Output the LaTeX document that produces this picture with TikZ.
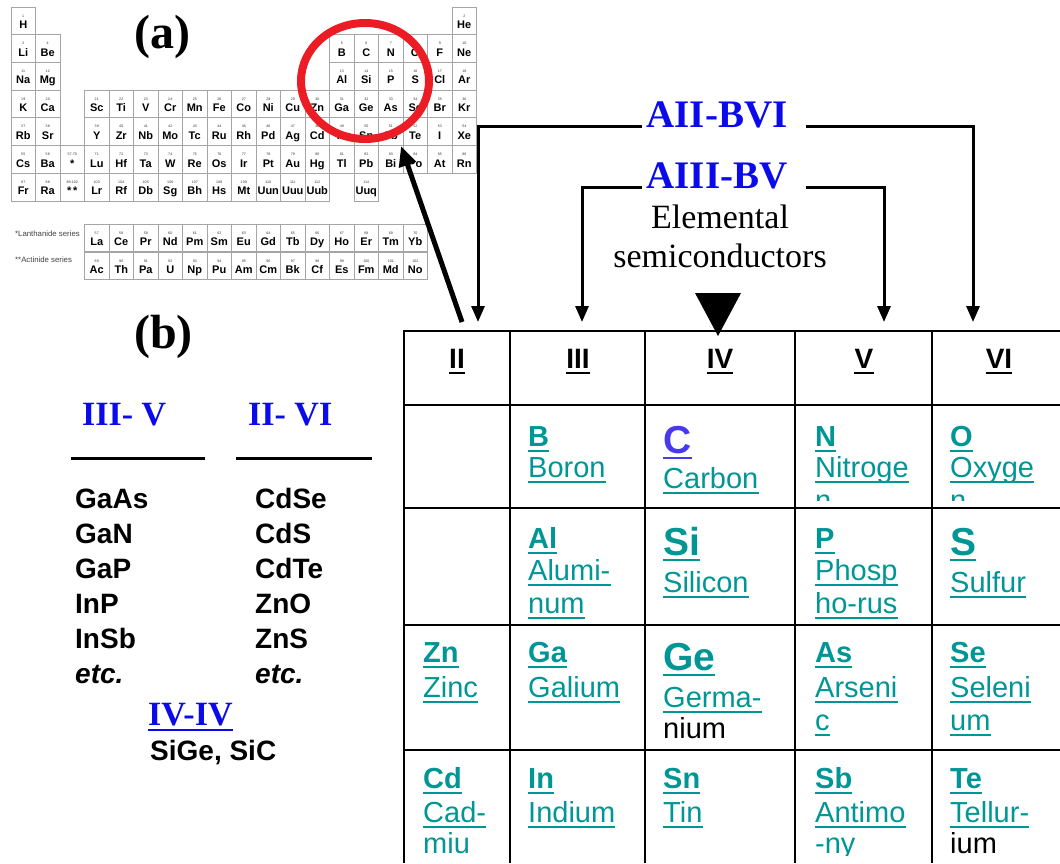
\documentclass[tikz,border=0pt]{standalone}
\usepackage{fontspec}
\setmainfont{Liberation Serif}
\setsansfont{Liberation Sans}
\usetikzlibrary{arrows.meta}
\definecolor{tealc}{RGB}{0,150,150}
\definecolor{cviolet}{RGB}{72,56,240}
\definecolor{lblue}{RGB}{10,10,235}
\definecolor{cred}{RGB}{236,28,36}
\definecolor{ptgray}{RGB}{165,165,165}
% periodic-table cell: #1 name, #2 x, #3 y, #4 number, #5 symbol
\newcommand\pcell[5]{%
  \draw[ptcell] (#2,#3) rectangle ++(24.5,27.7);
  \node[ptnum] (n#1) at ({#2+12.25},{#3+10}) {#4};
  \node[ptsym] (p#1) at ({#2+12.25},{#3+21.5}) {#5};
}
% underlined label: #1 style, #2 name, #3 x, #4 y, #5 text, #6 underline style
\newcommand\ulab[6]{%
  \node[#1] (#2) at (#3,#4) {#5};
  \draw[#6] ([yshift=-5pt]#2.base west) -- ([yshift=-5pt]#2.base east);
}
\begin{document}
\begin{tikzpicture}[x=1pt,y=-1pt,
  ptcell/.style={draw=ptgray, line width=0.8pt},
  ptnum/.style={font=\sffamily\fontsize{3.6}{4}\selectfont, text=black!80, inner sep=0, anchor=base},
  ptsym/.style={font=\sffamily\bfseries\fontsize{11}{12}\selectfont, inner sep=0, anchor=base},
  ptser/.style={font=\sffamily\fontsize{7.8}{9}\selectfont, text=black!75, inner sep=0, anchor=base west},
  tline/.style={line width=2.2pt},
  hdr/.style={font=\sffamily\bfseries\fontsize{28}{32}\selectfont, inner sep=0, anchor=base},
  elsym/.style={font=\sffamily\bfseries\fontsize{29}{34}\selectfont, text=tealc, inner sep=0, anchor=base west},
  elbig/.style={font=\sffamily\bfseries\fontsize{39}{44}\selectfont, text=tealc, inner sep=0, anchor=base west},
  elname/.style={font=\sffamily\fontsize{29}{34}\selectfont, text=tealc, inner sep=0, anchor=base west},
  elblack/.style={font=\sffamily\fontsize{29}{34}\selectfont, text=black, inner sep=0, anchor=base west},
  ulteal/.style={draw=tealc, line width=2.6pt},
  ulblue/.style={draw=cviolet, line width=2.6pt},
  ulblack/.style={draw=black, line width=2.6pt},
  ullblue/.style={draw=lblue, line width=2.6pt},
  grp/.style={font=\bfseries\fontsize{34}{38}\selectfont, text=lblue, inner sep=0, anchor=base west},
  toplab/.style={font=\bfseries\fontsize{39}{44}\selectfont, text=lblue, inner sep=0, anchor=base},
  elem/.style={font=\fontsize{34}{38}\selectfont, inner sep=0, anchor=base},
  cmp/.style={font=\sffamily\bfseries\fontsize{28}{32}\selectfont, inner sep=0, anchor=base west},
  bigl/.style={font=\bfseries\fontsize{48}{52}\selectfont, inner sep=0, anchor=base west},
  arr/.style={line width=3pt, -{Triangle[length=16pt,width=13pt]}},
]
\useasboundingbox (0,0) rectangle (1060,863);
\clip (0,0) rectangle (1060,863);

% ---------------- periodic table (a) ----------------
\foreach \c/\r/\n/\s in {
 0/0/1/H, 18/0/2/He,
 0/1/3/Li, 1/1/4/Be, 13/1/5/B, 14/1/6/C, 15/1/7/N, 16/1/8/O, 17/1/9/F, 18/1/10/Ne,
 0/2/11/Na, 1/2/12/Mg, 13/2/13/Al, 14/2/14/Si, 15/2/15/P, 16/2/16/S, 17/2/17/Cl, 18/2/18/Ar,
 0/3/19/K, 1/3/20/Ca, 3/3/21/Sc, 4/3/22/Ti, 5/3/23/V, 6/3/24/Cr, 7/3/25/Mn, 8/3/26/Fe, 9/3/27/Co,
 10/3/28/Ni, 11/3/29/Cu, 12/3/30/Zn, 13/3/31/Ga, 14/3/32/Ge, 15/3/33/As, 16/3/34/Se, 17/3/35/Br, 18/3/36/Kr,
 0/4/37/Rb, 1/4/38/Sr, 3/4/39/Y, 4/4/40/Zr, 5/4/41/Nb, 6/4/42/Mo, 7/4/43/Tc, 8/4/44/Ru, 9/4/45/Rh,
 10/4/46/Pd, 11/4/47/Ag, 12/4/48/Cd, 13/4/49/In, 14/4/50/Sn, 15/4/51/Sb, 16/4/52/Te, 17/4/53/I, 18/4/54/Xe,
 0/5/55/Cs, 1/5/56/Ba, 3/5/71/Lu, 4/5/72/Hf, 5/5/73/Ta, 6/5/74/W, 7/5/75/Re, 8/5/76/Os, 9/5/77/Ir,
 10/5/78/Pt, 11/5/79/Au, 12/5/80/Hg, 13/5/81/Tl, 14/5/82/Pb, 15/5/83/Bi, 16/5/84/Po, 17/5/85/At, 18/5/86/Rn,
 0/6/87/Fr, 1/6/88/Ra, 3/6/103/Lr, 4/6/104/Rf, 5/6/105/Db, 6/6/106/Sg, 7/6/107/Bh, 8/6/108/Hs, 9/6/109/Mt,
 10/6/110/Uun, 11/6/111/Uuu, 12/6/112/Uub, 14/6/114/Uuq}
 {\pcell{\s}{11+24.5*\c}{7+27.7*\r}{\n}{\s}}
\pcell{star1}{60}{145.5}{57-70}{*}
\pcell{star2}{60}{173.2}{89-102}{*\,*}

\foreach \s/\n [count=\i from 0] in {La/57,Ce/58,Pr/59,Nd/60,Pm/61,Sm/62,Eu/63,Gd/64,Tb/65,Dy/66,Ho/67,Er/68,Tm/69,Yb/70}
 {\pcell{\s}{84.5+24.5*\i}{224}{\n}{\s}}
\foreach \s/\n [count=\i from 0] in {Ac/89,Th/90,Pa/91,U/92,Np/93,Pu/94,Am/95,Cm/96,Bk/97,Cf/98,Es/99,Fm/100,Md/101,No/102}
 {\pcell{\s}{84.5+24.5*\i}{252}{\n}{\s}}
\node[ptser] (lser) at (15,236) {*Lanthanide series};
\node[ptser] (aser) at (15,262) {**Actinide series};

\node[bigl] (la) at (134,48) {(a)};
\node[bigl] (lb) at (134,348) {(b)};

% red circle and arrow
\draw[cred, line width=8pt] (365,81) ellipse [x radius=64, y radius=58];
\coordinate (circ) at (401,146);
\coordinate (colII) at (462,322);

% ---------------- left lists (b) ----------------
\node[grp] (g35) at (82,425) {III- V};
\node[grp] (g26) at (248,425) {II- VI};
\draw[line width=3pt] (71,458) -- (205,458);
\draw[line width=3pt] (236,458) -- (372,458);
\foreach \t [count=\i from 0] in {GaAs,GaN,GaP,InP,InSb,\textit{etc.}}
  \node[cmp] (c35-\i) at (75,{508+35*\i}) {\t};
\foreach \t [count=\i from 0] in {CdSe,CdS,CdTe,ZnO,ZnS,\textit{etc.}}
  \node[cmp] (c26-\i) at (255,{508+35*\i}) {\t};
\ulab{grp}{g44}{148}{725}{IV-IV}{ullblue}
\node[cmp] (c44) at (150,760) {SiGe, SiC};

% ---------------- right table ----------------
\foreach \x in {404,510,645,795,932} \draw[tline] (\x,331) -- (\x,863);
\foreach \y in {331,405,508,625,750} \draw[tline] (403,\y) -- (1060,\y);

\ulab{hdr}{hII}{457}{368}{II}{ulblack}
\ulab{hdr}{hIII}{578}{368}{III}{ulblack}
\ulab{hdr}{hIV}{720}{368}{IV}{ulblack}
\ulab{hdr}{hV}{864}{368}{V}{ulblack}
\ulab{hdr}{hVI}{999}{368}{VI}{ulblack}

\begin{scope}
\clip (404,405) rectangle (1060,500);
\ulab{elsym}{tB}{528}{446}{B}{ulteal}
\ulab{elname}{tBn}{528}{477}{Boron}{ulteal}
\ulab{elbig,text=cviolet}{tC}{663}{453}{C}{ulblue}
\ulab{elname}{tCn}{663}{488}{Carbon}{ulteal}
\ulab{elsym}{tN}{815}{446}{N}{ulteal}
\ulab{elname}{tNn}{815}{477}{Nitroge}{ulteal}
\ulab{elname}{tNn2}{815}{510}{n}{ulteal}
\ulab{elsym}{tO}{950}{446}{O}{ulteal}
\ulab{elname}{tOn}{950}{477}{Oxyge}{ulteal}
\ulab{elname}{tOn2}{950}{510}{n}{ulteal}
\end{scope}

\ulab{elsym}{tAl}{528}{548}{Al}{ulteal}
\ulab{elname}{tAln}{528}{580}{Alumi-}{ulteal}
\ulab{elname}{tAln2}{528}{613}{num}{ulteal}
\ulab{elbig}{tSi}{663}{555}{Si}{ulteal}
\ulab{elname}{tSin}{663}{592}{Silicon}{ulteal}
\ulab{elsym}{tP}{815}{548}{P}{ulteal}
\ulab{elname}{tPn}{815}{580}{Phosp}{ulteal}
\ulab{elname}{tPn2}{815}{613}{ho-rus}{ulteal}
\ulab{elbig}{tS}{950}{555}{S}{ulteal}
\ulab{elname}{tSn}{950}{592}{Sulfur}{ulteal}

\ulab{elsym}{tZn}{423}{662}{Zn}{ulteal}
\ulab{elname}{tZnn}{423}{697}{Zinc}{ulteal}
\ulab{elsym}{tGa}{528}{662}{Ga}{ulteal}
\ulab{elname}{tGan}{528}{697}{Galium}{ulteal}
\ulab{elbig}{tGe}{663}{670}{Ge}{ulteal}
\ulab{elname}{tGen}{663}{707}{Germa-}{ulteal}
\node[elblack] (tGen2) at (663,738) {nium};
\ulab{elsym}{tAs}{815}{662}{As}{ulteal}
\ulab{elname}{tAsn}{815}{697}{Arseni}{ulteal}
\ulab{elname}{tAsn2}{815}{730}{c}{ulteal}
\ulab{elsym}{tSe}{950}{662}{Se}{ulteal}
\ulab{elname}{tSen}{950}{697}{Seleni}{ulteal}
\ulab{elname}{tSen2}{950}{730}{um}{ulteal}

\begin{scope}
\clip (404,750) rectangle (1060,855);
\ulab{elsym}{tCd}{423}{788}{Cd}{ulteal}
\ulab{elname}{tCdn}{423}{822}{Cad-}{ulteal}
\ulab{elname}{tCdn2}{423}{853}{miu}{ulteal}
\ulab{elsym}{tIn}{528}{788}{In}{ulteal}
\ulab{elname}{tInn}{528}{822}{Indium}{ulteal}
\ulab{elsym}{tSnn}{663}{788}{Sn}{ulteal}
\ulab{elname}{tSnn2}{663}{822}{Tin}{ulteal}
\ulab{elsym}{tSb}{815}{788}{Sb}{ulteal}
\ulab{elname}{tSbn}{815}{822}{Antimo}{ulteal}
\ulab{elname}{tSbn2}{815}{853}{-ny}{ulteal}
\ulab{elsym}{tTe}{950}{788}{Te}{ulteal}
\ulab{elname}{tTen}{950}{822}{Tellur-}{ulteal}
\node[elblack] (tTen2) at (950,853) {ium};
\end{scope}

% ---------------- top labels and connectors ----------------
\node[toplab] (a2b6) at (717,127) {AII-BVI};
\node[toplab] (a3b5) at (717,188) {AIII-BV};
\node[elem] (elem1) at (720,228) {Elemental};
\node[elem] (elem2) at (720,267) {semiconductors};
\coordinate (h2) at (478,322);
\coordinate (h3) at (582,322);
\coordinate (h5) at (884,322);
\coordinate (h6) at (973,322);
\draw[arr] ([xshift=-4pt,yshift=1pt]a2b6.base west) -| (h2);
\draw[arr] ([xshift=18pt,yshift=1pt]a2b6.base east) -| (h6);
\draw[arr] ([xshift=-4pt,yshift=1pt]a3b5.base west) -| (h3);
\draw[arr] ([xshift=18pt,yshift=1pt]a3b5.base east) -| (h5);
\fill (695,293) -- (741,293) -- (718,336) -- cycle;

\draw[line width=5pt, -{Triangle[length=20pt,width=17pt]}] (colII) -- (circ);
\end{tikzpicture}
\end{document}
